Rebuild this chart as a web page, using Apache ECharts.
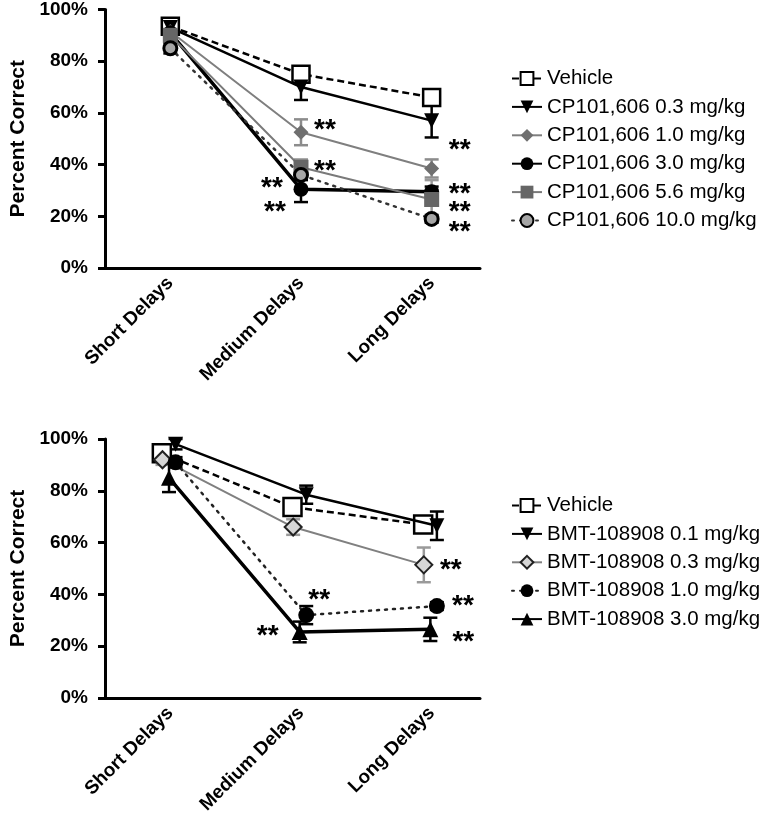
<!DOCTYPE html>
<html>
<head>
<meta charset="utf-8">
<script src="https://cdn.jsdelivr.net/npm/echarts@6/dist/echarts.min.js"></script>
<style>
html,body{margin:0;padding:0;background:#fff;}
#chart{width:773px;height:819px;}
</style>
</head>
<body>
<div id="chart"></div>
<script>
// ---------- DATA ----------
const categories = ['Short Delays', 'Medium Delays', 'Long Delays'];

// Top panel: CP101,606
const topNames = ['Vehicle', 'CP101,606 0.3 mg/kg', 'CP101,606 1.0 mg/kg', 'CP101,606 3.0 mg/kg', 'CP101,606 5.6 mg/kg', 'CP101,606 10.0 mg/kg'];
const topVehicle = [93.5, 75, 66];
const topCP03 = [93, 70, 57];
const topCP10 = [91.5, 52.5, 38.5];
const topCP30 = [91, 30.5, 29.5];
const topCP56 = [90, 39, 26.5];
const topCP100 = [85, 36, 19];
const topVehicleErr = [2, 2, 2];
const topCP03Err = [2, 5, 6.5];
const topCP10Err = [2, 5, 3.5];
const topCP30Err = [2, 5, 2];
const topCP56Err = [2, 3, 7.5];
const topCP100Err = [2, 2, 1.5];
const topVehicleSig = [false, false, false];
const topCP03Sig = [false, false, true];
const topCP10Sig = [false, true, true];
const topCP30Sig = [false, true, false];
const topCP56Sig = [false, true, true];
const topCP100Sig = [false, true, true];

// Bottom panel: BMT-108908
const botNames = ['Vehicle ', 'BMT-108908 0.1 mg/kg', 'BMT-108908 0.3 mg/kg', 'BMT-108908 1.0 mg/kg', 'BMT-108908 3.0 mg/kg'];
const botVehicle = [94.5, 73.7, 67];
const botBMT01 = [98, 78.5, 66.5];
const botBMT03 = [92, 66, 51.4];
const botBMT10 = [91, 32, 35.5];
const botBMT30 = [85, 25.5, 26.5];
const botVehicleErr = [2, 2, 2];
const botBMT01Err = [2, 3.5, 5.5];
const botBMT03Err = [2, 3, 6.7];
const botBMT10Err = [2, 3.5, 1.5];
const botBMT30Err = [5.5, 4, 4.5];
const botVehicleSig = [false, false, false];
const botBMT01Sig = [false, false, false];
const botBMT03Sig = [false, false, true];
const botBMT10Sig = [false, true, true];
const botBMT30Sig = [false, true, true];

// ---------- STYLES ----------
const FONT = 'Liberation Sans, Arial, Helvetica, sans-serif';
const BLACK = '#000';

const topStyles = [
  {line: {color: BLACK, width: 2.5, type: [7, 4]}, symbol: 'rect', size: 17, fill: '#fff', border: BLACK, bw: 2.5, err: BLACK, jit: 0, lab: []},
  {line: {color: BLACK, width: 2.5, type: 'solid'}, symbol: 'triangle', rotate: 180, size: 15, fill: BLACK, border: BLACK, bw: 0, err: BLACK, jit: 0, lab: [null, null, [28, 30]]},
  {line: {color: '#7f7f7f', width: 2, type: 'solid'}, symbol: 'diamond', size: 15, fill: '#6f6f6f', border: '#6f6f6f', bw: 0, err: '#8c8c8c', jit: 0, lab: [null, [24, -2], [28, 26]]},
  {line: {color: BLACK, width: 3.5, type: 'solid'}, symbol: 'circle', size: 15, fill: BLACK, border: BLACK, bw: 0, err: BLACK, jit: 0, lab: [null, [-26, 23], null]},
  {line: {color: '#7a7a7a', width: 2, type: 'solid'}, symbol: 'rect', size: 15, fill: '#666', border: '#666', bw: 0, err: '#999', jit: 0, lab: [null, [24, 4], [28, 13]]},
  {line: {color: '#333', width: 2.5, type: [2, 6], cap: 'round'}, symbol: 'circle', size: 13, fill: '#a6a6a6', border: BLACK, bw: 3, err: BLACK, jit: 0, lab: [null, [-29, 13], [28, 13]]}
];
const botStyles = [
  {line: {color: BLACK, width: 2.5, type: [7, 4]}, symbol: 'rect', size: 18, fill: '#fff', border: BLACK, bw: 2.5, err: BLACK, jit: -0.065, lab: []},
  {line: {color: BLACK, width: 2.5, type: 'solid'}, symbol: 'triangle', rotate: 180, size: 15, fill: BLACK, border: BLACK, bw: 0, err: BLACK, jit: 0.04, lab: []},
  {line: {color: '#808080', width: 2, type: 'solid'}, symbol: 'diamond', size: 17, fill: '#d6d6d6', border: '#222', bw: 2, err: '#9a9a9a', jit: -0.06, lab: [null, null, [27, 5]]},
  {line: {color: '#222', width: 2.5, type: [2, 6], cap: 'round'}, symbol: 'circle', size: 16, fill: BLACK, border: BLACK, bw: 0, err: BLACK, jit: 0.04, lab: [null, [13, -15], [26, 0]]},
  {line: {color: BLACK, width: 3.5, type: 'solid'}, symbol: 'triangle', size: 16, fill: BLACK, border: BLACK, bw: 0, err: BLACK, jit: -0.01, lab: [null, [-32, 4], [33, 13]]}
];

const topValues = [topVehicle, topCP03, topCP10, topCP30, topCP56, topCP100];
const topErrs = [topVehicleErr, topCP03Err, topCP10Err, topCP30Err, topCP56Err, topCP100Err];
const topSigs = [topVehicleSig, topCP03Sig, topCP10Sig, topCP30Sig, topCP56Sig, topCP100Sig];
const botValues = [botVehicle, botBMT01, botBMT03, botBMT10, botBMT30];
const botErrs = [botVehicleErr, botBMT01Err, botBMT03Err, botBMT10Err, botBMT30Err];
const botSigs = [botVehicleSig, botBMT01Sig, botBMT03Sig, botBMT10Sig, botBMT30Sig];

const grids = [
  {left: 105, top: 9, width: 375, height: 259},
  {left: 105, top: 439, width: 375, height: 259}
];

function makeXAxis(gi) {
  return {
    type: 'value', gridIndex: gi, min: -0.5, max: 2.37,
    axisLine: {show: true, onZero: false, lineStyle: {color: BLACK, width: 3}},
    axisTick: {show: false},
    splitLine: {show: false},
    axisLabel: {
      customValues: [0, 1, 2],
      formatter: v => categories[Math.round(v)],
      rotate: 45, margin: 12, color: BLACK,
      fontFamily: FONT, fontWeight: 'bold', fontSize: 19
    }
  };
}
function makeYAxis(gi) {
  return {
    type: 'value', gridIndex: gi, min: 0, max: 100, interval: 20,
    name: 'Percent Correct', nameLocation: 'middle', nameRotate: 90, nameGap: 76,
    nameTextStyle: {color: BLACK, fontFamily: FONT, fontWeight: 'bold', fontSize: 21},
    axisLine: {show: true, onZero: false, lineStyle: {color: BLACK, width: 3}},
    axisTick: {show: true, length: 7, lineStyle: {color: BLACK, width: 3}},
    splitLine: {show: false},
    axisLabel: {formatter: '{value}%', margin: 17, color: BLACK, fontFamily: FONT, fontWeight: 'bold', fontSize: 19}
  };
}

function buildSeries(gi, names, values, errs, sigs, styles) {
  const out = [];
  names.forEach((name, s) => {
    const st = styles[s];
    const color = st.err;
    out.push({
      type: 'custom', name: '__err' + gi + '_' + s, xAxisIndex: gi, yAxisIndex: gi,
      silent: true, z: 1,
      data: values[s].map((v, i) => [i + st.jit, v, errs[s][i]]),
      encode: {x: 0, y: 1},
      renderItem: (params, api) => {
        const x = api.value(0), v = api.value(1), e = api.value(2);
        const hi = api.coord([x, v + e]), lo = api.coord([x, v - e]);
        const w = 7;
        const style = {stroke: color, lineWidth: 2.5};
        return {type: 'group', children: [
          {type: 'line', shape: {x1: hi[0], y1: hi[1], x2: lo[0], y2: lo[1]}, style},
          {type: 'line', shape: {x1: hi[0] - w, y1: hi[1], x2: hi[0] + w, y2: hi[1]}, style},
          {type: 'line', shape: {x1: lo[0] - w, y1: lo[1], x2: lo[0] + w, y2: lo[1]}, style}
        ]};
      }
    });
  });
  names.forEach((name, s) => {
    const st = styles[s];
    out.push({
      type: 'line', name: name, xAxisIndex: gi, yAxisIndex: gi, z: 3 + s * 0.01,
      symbol: st.symbol, symbolSize: st.size, symbolRotate: st.rotate || 0,
      showAllSymbol: true, animation: false,
      lineStyle: {color: st.line.color, width: st.line.width, type: st.line.type, cap: st.line.cap || 'butt'},
      itemStyle: {color: st.fill, borderColor: st.border, borderWidth: st.bw},
      emphasis: {disabled: true},
      data: values[s].map((v, i) => {
        const off = st.lab[i];
        const item = {value: [i + st.jit, v]};
        if (sigs[s][i] && off) {
          item.label = {show: true, formatter: '**', position: 'inside', offset: off,
            color: BLACK, fontFamily: FONT, fontWeight: 'bold', fontSize: 28};
        }
        return item;
      })
    });
  });
  return out;
}

function makeLegend(names, top) {
  return {
    orient: 'vertical', left: 511, top: top, padding: 0,
    data: names, itemWidth: 30, itemHeight: 16, itemGap: 7.4,
    selectedMode: false,
    formatter: n => n.trim(),
    textStyle: {color: BLACK, fontFamily: FONT, fontSize: 20.5, lineHeight: 20}
  };
}

const option = {
  animation: false,
  backgroundColor: '#fff',
  grid: grids,
  xAxis: [makeXAxis(0), makeXAxis(1)],
  yAxis: [makeYAxis(0), makeYAxis(1)],
  legend: [makeLegend(topNames, 68), makeLegend(botNames, 495)],
  series: [
    ...buildSeries(0, topNames, topValues, topErrs, topSigs, topStyles),
    ...buildSeries(1, botNames, botValues, botErrs, botSigs, botStyles)
  ]
};

const chart = echarts.init(document.getElementById('chart'), null, {renderer: 'canvas'});
chart.setOption(option);
</script>
</body>
</html>
